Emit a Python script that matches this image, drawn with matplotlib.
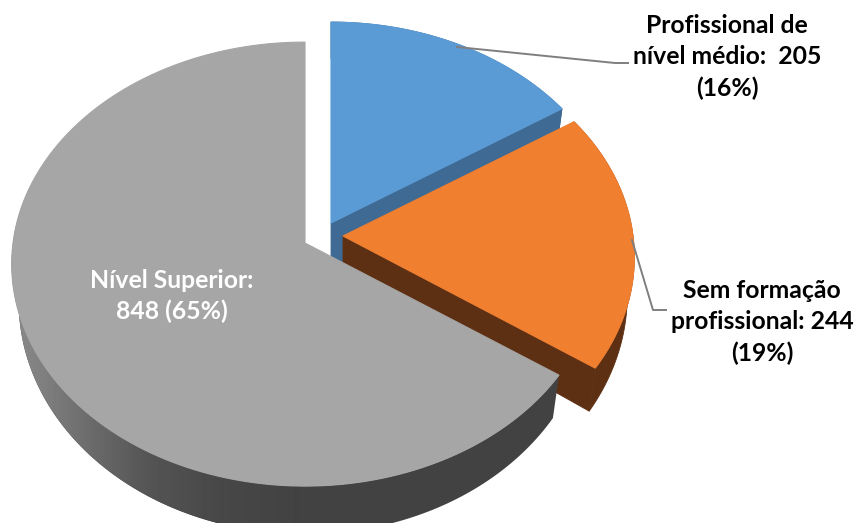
import matplotlib
matplotlib.use("Agg")
import matplotlib.pyplot as plt
import numpy as np

categories = ["Profissional de\nnível médio:  205\n(16%)", "Sem formação\nprofissional: 244\n(19%)", "Nível Superior:\n848 (65%)"]
values = [205, 244, 848]
top_colors = ["#5B9BD5", "#F07F30", "#A6A6A6"]
side_colors = ["#3F6A94", "#5E3013", "#424242"]
# where the sharp corner of each exploded slice lands, in pixels
apex = [(331, 223), (343, 236), (305, 243)]
widths = [290, 290, 292]
drops = [46, 37, 37]

RY, K = 220, 0.095
RY2 = 230


def rim(cx, cy, a1, a2, rx, ry=RY, n=160):
    t = np.radians(np.linspace(a1, a2, n))
    u, v = np.sin(t), -np.cos(t)
    w = 1 - K * v
    return cx + rx * u / w, cy + ry * v / w


def bottom_rim(cx, cy, a1, a2, rx):
    return rim(cx, cy, a1, a2, rx - 7, RY2)


fig = plt.figure(figsize=(8.56, 5.23), dpi=100)
ax = fig.add_axes([0, 0, 1, 1])
ax.set_xlim(0, 856)
ax.set_ylim(523, 0)
ax.axis("off")

angles = np.concatenate([[0], np.cumsum(values) / np.sum(values) * 360])

for i in range(3):
    cx, cy = apex[i]
    rx = widths[i]
    drop = drops[i]
    a1, a2 = angles[i], angles[i + 1]
    tx, ty = rim(cx, cy, a1, a2, rx)
    bx, by = bottom_rim(cx, cy + drop, a1, a2, rx)

    if i < 2:
        # outer wall and the cut face towards the viewer
        ax.fill(np.r_[tx, bx[::-1]], np.r_[ty, by[::-1]],
                color=side_colors[i], lw=0.6, zorder=i * 2 + 1)
        ax.fill([cx, tx[-1], bx[-1], cx], [cy, ty[-1], by[-1], cy + drop],
                color=side_colors[i], lw=0.6, zorder=i * 2 + 1)
    else:
        tx2, ty2 = rim(cx, cy, a1, 285, rx)
        bx2, by2 = bottom_rim(cx, cy + drop, a1, 285, rx)
        wall = ax.fill(np.r_[tx2, bx2[::-1]], np.r_[ty2, by2[::-1]],
                       color=side_colors[i], lw=0, zorder=i * 2 + 1)[0]
        shade = np.interp(np.linspace(0, 300, 300), [0, 30, 90, 150, 220, 300],
                          [0.55, 0.52, 0.42, 0.33, 0.28, 0.26])
        img = ax.imshow(shade[None, :], extent=(0, 300, 523, 0), cmap="gray",
                        vmin=0, vmax=1, aspect="auto", zorder=i * 2 + 1.5)
        img.set_clip_path(wall)

    ax.fill(np.r_[cx, tx], np.r_[cy, ty], color=top_colors[i], lw=0.8, zorder=i * 2 + 2)

ax.set_xlim(0, 856)
ax.set_ylim(523, 0)

ax.plot([457, 615, 628], [47, 63, 63], color="#7F7F7F", lw=1.4, zorder=10)
ax.plot([632, 653, 666], [240, 310, 310], color="#7F7F7F", lw=1.4, zorder=10)

font = {"family": "Lato", "weight": "bold", "fontsize": 17.8,
        "ha": "center", "va": "center", "linespacing": 1.42}
ax.text(727, 57, categories[0], color="black", zorder=11, **font)
ax.text(762, 322, categories[1], color="black", zorder=11, **font)
ax.text(172, 296, categories[2], color="white", zorder=11, **font)

fig.savefig("out.png", dpi=100)
